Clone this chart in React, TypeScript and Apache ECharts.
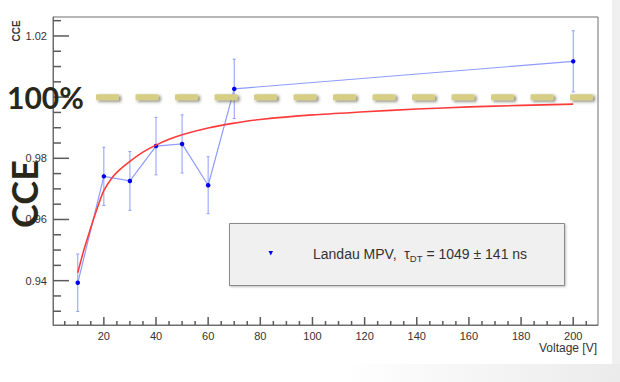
import React, { useEffect, useRef } from "react";
import * as echarts from "echarts";

// ---- data ----
const voltages = [10, 20, 30, 40, 50, 60, 70, 200];
const cceValues = [0.9393, 0.9741, 0.9726, 0.984, 0.9847, 0.9712, 1.0027, 1.0117];
const cceErrors = [0.0094, 0.0095, 0.0096, 0.0094, 0.0095, 0.0093, 0.0097, 0.01];

const fitVoltages = [10, 12, 14, 16, 18, 20, 23, 26, 30, 35, 40, 45, 50, 60, 70, 80, 100, 120, 140, 160, 180, 200];
const fitValues = [
  0.9426, 0.949, 0.9546, 0.96, 0.965, 0.9694, 0.9735, 0.9762, 0.979, 0.982, 0.9843, 0.9862, 0.9877,
  0.9899, 0.9915, 0.9927, 0.9942, 0.9952, 0.9961, 0.9968, 0.9973, 0.9977,
];

const referenceVoltages = [17, 207.6];
const referenceLevel = 1.0;

const xTickLabels = ["20", "40", "60", "80", "100", "120", "140", "160", "180", "200"];
const yTickLabels = ["0.94", "0.96", "0.98", "1.02"];

// tick positions (axis decoration)
const xMajorTicks = [20, 40, 60, 80, 100, 120, 140, 160, 180, 200];
const xMinorTicks = [
  5, 10, 15, 25, 30, 35, 45, 50, 55, 65, 70, 75, 85, 90, 95, 105, 110, 115, 125, 130, 135, 145, 150, 155,
  165, 170, 175, 185, 190, 195, 205,
];
const yMajorTicks = [0.94, 0.96, 0.98, 1.0, 1.02];
const yMinorTicks = [0.93, 0.935, 0.945, 0.95, 0.955, 0.965, 0.97, 0.975, 0.985, 0.99, 0.995, 1.005, 1.01, 1.015, 1.025];

const xRange = [0.5, 209.5];
const yRange = [0.9255, 1.0262];

const legendText = { head: "Landau MPV,  τ", sub: "DT", tail: " = 1049 ± 141 ns" };

const AXIS_COLOR = "#6e6e6e";
const TICK_COLOR = "#5a5a5a";
const LABEL_COLOR = "#333333";
const FONT = '"Liberation Sans", Arial, Helvetica, sans-serif';
const BIG_FONT = 'Lato, "Open Sans", sans-serif';

function fmt(list: string[], digits: number) {
  return (v: number) => {
    const s = v.toFixed(digits);
    return list.indexOf(s) >= 0 ? s : "";
  };
}

export default function App() {
  const ref = useRef<HTMLDivElement>(null);

  useEffect(() => {
    if (!ref.current) return;
    const chart = echarts.init(ref.current, undefined, { renderer: "svg" });

    const grid = { left: 53, right: 22, top: 17, bottom: 57 };

    const baseGraphic: any[] = [
      {
        type: "rect",
        z: 0,
        silent: true,
        shape: { x: 612, y: 0, width: 8, height: 382 },
        style: { fill: "#f0f0f0" },
      },
      {
        type: "rect",
        z: 0,
        silent: true,
        shape: { x: 0, y: 364, width: 620, height: 18 },
        style: {
          fill: new echarts.graphic.LinearGradient(0, 0, 1, 0, [
            { offset: 0, color: "#ffffff" },
            { offset: 0.55, color: "#ffffff" },
            { offset: 1, color: "#ebebeb" },
          ]),
        },
      },
      {
        type: "text",
        z: 20,
        x: 16,
        y: 31,
        rotation: Math.PI / 2,
        style: {
          text: "CCE",
          font: `bold 10px ${FONT}`,
          fill: "#333",
          align: "center",
          verticalAlign: "middle",
        },
      },
      {
        type: "text",
        z: 20,
        x: 597,
        y: 348,
        style: {
          text: "Voltage [V]",
          font: `12px ${FONT}`,
          fill: LABEL_COLOR,
          align: "right",
          verticalAlign: "middle",
        },
      },
      {
        type: "text",
        z: 30,
        x: 7,
        y: 97,
        style: {
          text: "100%",
          font: `bold 30px ${BIG_FONT}`,
          fill: "#29261a",
          align: "left",
          verticalAlign: "middle",
        },
      },
      {
        type: "text",
        z: 30,
        x: 24,
        y: 194,
        rotation: Math.PI / 2,
        style: {
          text: "CCE",
          font: `bold 36px ${BIG_FONT}`,
          fill: "#29261a",
          align: "center",
          verticalAlign: "middle",
        },
      },
      {
        type: "rect",
        z: 20,
        shape: { x: 229.5, y: 223.5, width: 335, height: 62 },
        style: {
          fill: "#f0f0f0",
          stroke: "#8a8a8a",
          lineWidth: 1,
          shadowColor: "rgba(0,0,0,0.25)",
          shadowBlur: 2,
          shadowOffsetX: 1,
          shadowOffsetY: 1,
        },
      },
      {
        type: "polygon",
        z: 21,
        shape: { points: [[268.5, 251], [273, 251], [270.75, 255.5]] },
        style: { fill: "#0000ee" },
      },
      {
        type: "text",
        z: 21,
        x: 313,
        y: 244,
        style: {
          text: `{a|${legendText.head}}{s|${legendText.sub}}{a|${legendText.tail}}`,
          rich: {
            a: { fontFamily: FONT, fontSize: 14, lineHeight: 19, fill: LABEL_COLOR, color: LABEL_COLOR, verticalAlign: "middle" },
            s: { fontFamily: FONT, fontSize: 9.5, lineHeight: 10, fill: LABEL_COLOR, color: LABEL_COLOR, verticalAlign: "bottom" },
          },
          verticalAlign: "top",
        },
      },
    ];

    const option: any = {
      animation: false,
      backgroundColor: "#ffffff",
      grid: [{ ...grid, show: true, borderColor: AXIS_COLOR, borderWidth: 1, backgroundColor: "transparent" }],
      xAxis: [
        {
          type: "value",
          min: xRange[0],
          max: xRange[1],
          position: "bottom",
          splitNumber: 10,
          minInterval: 20,
          maxInterval: 20,
          axisLine: { show: true, lineStyle: { color: AXIS_COLOR, width: 1 } },
          axisTick: { show: false },
          minorTick: { show: false },
          axisLabel: {
            formatter: fmt(xTickLabels, 0),
            color: LABEL_COLOR,
            fontFamily: FONT,
            fontSize: 11,
            margin: 5,
            showMinLabel: false,
            showMaxLabel: false,
          },
          splitLine: { show: false },
        },
      ],
      yAxis: [
        {
          type: "value",
          min: yRange[0],
          max: yRange[1],
          position: "left",
          splitNumber: 5,
          minInterval: 0.02,
          maxInterval: 0.02,
          axisLine: { show: true, lineStyle: { color: AXIS_COLOR, width: 1 } },
          axisTick: { show: false },
          minorTick: { show: false },
          axisLabel: {
            formatter: fmt(yTickLabels, 2),
            color: LABEL_COLOR,
            fontFamily: FONT,
            fontSize: 11,
            margin: 6,
            showMinLabel: false,
            showMaxLabel: false,
          },
          splitLine: { show: false },
        },
      ],
      series: [
        {
          type: "custom",
          name: "errors",
          data: voltages.map((v, i) => [v, cceValues[i], cceErrors[i]]),
          encode: { x: 0, y: 1 },
          z: 2,
          renderItem: (params: any, api: any) => {
            const x = api.value(0);
            const y = api.value(1);
            const e = api.value(2);
            const top = api.coord([x, y + e]);
            const bot = api.coord([x, y - e]);
            const cap = 1.5;
            const st = { stroke: "#8e9cff", lineWidth: 1 };
            return {
              type: "group",
              children: [
                { type: "line", shape: { x1: top[0], y1: top[1], x2: bot[0], y2: bot[1] }, style: st },
                { type: "line", shape: { x1: top[0] - cap, y1: top[1], x2: top[0] + cap, y2: top[1] }, style: st },
                { type: "line", shape: { x1: bot[0] - cap, y1: bot[1], x2: bot[0] + cap, y2: bot[1] }, style: st },
              ],
            };
          },
        },
        {
          type: "line",
          name: "Landau MPV",
          data: voltages.map((v, i) => [v, cceValues[i]]),
          lineStyle: { color: "#8e9cff", width: 1.2 },
          symbol: "circle",
          symbolSize: 4.5,
          itemStyle: { color: "#0000ee" },
          z: 3,
        },
        {
          type: "line",
          name: "fit",
          data: fitVoltages.map((v, i) => [v, fitValues[i]]),
          smooth: 0.3,
          symbol: "none",
          lineStyle: { color: "#ff3a3a", width: 1.6 },
          z: 4,
        },
        {
          type: "custom",
          name: "100%",
          data: [[referenceVoltages[0], referenceVoltages[1], referenceLevel]],
          encode: { x: [0, 1], y: 2 },
          z: 6,
          renderItem: (params: any, api: any) => {
            const p0 = api.coord([api.value(0), api.value(2)]);
            const p1 = api.coord([api.value(1), api.value(2)]);
            const dash = 23;
            const gap = 16.5;
            const h = 6;
            const children: any[] = [];
            for (let x = p0[0]; x < p1[0] - 1; x += dash + gap) {
              const w = Math.min(dash, p1[0] - x);
              children.push({
                type: "rect",
                shape: { x, y: p0[1] - h / 2, width: w, height: h, r: 1 },
                style: {
                  fill: "#d6ce84",
                  shadowColor: "rgba(50,50,35,0.6)",
                  shadowBlur: 3,
                  shadowOffsetX: 2,
                  shadowOffsetY: 1.5,
                },
              });
            }
            return { type: "group", children };
          },
        },
      ],
      graphic: baseGraphic,
    };

    chart.setOption(option);

    // axis ticks (ROOT style, pointing inside), positioned through the chart's own scales
    const T = 1.5;
    const tickEls: any[] = [];
    const addX = (v: number, len: number) => {
      const p = chart.convertToPixel({ gridIndex: 0 }, [v, yRange[0]]) as number[];
      tickEls.push({
        type: "rect",
        z: 25,
        silent: true,
        shape: { x: p[0] - T / 2, y: p[1] - len, width: T, height: len },
        style: { fill: TICK_COLOR },
      });
    };
    const addY = (v: number, len: number) => {
      const p = chart.convertToPixel({ gridIndex: 0 }, [xRange[0], v]) as number[];
      tickEls.push({
        type: "rect",
        z: 25,
        silent: true,
        shape: { x: p[0], y: p[1] - T / 2, width: len, height: T },
        style: { fill: TICK_COLOR },
      });
    };
    xMajorTicks.forEach((v) => addX(v, 8));
    xMinorTicks.forEach((v) => addX(v, 4));
    yMajorTicks.forEach((v) => addY(v, 16));
    yMinorTicks.forEach((v) => addY(v, 8));

    chart.setOption({ graphic: [...baseGraphic, ...tickEls] });

    return () => chart.dispose();
  }, []);

  return (
    <div
      ref={ref}
      style={{ position: "fixed", left: 0, top: 0, width: 620, height: 382, background: "#fff" }}
    />
  );
}
